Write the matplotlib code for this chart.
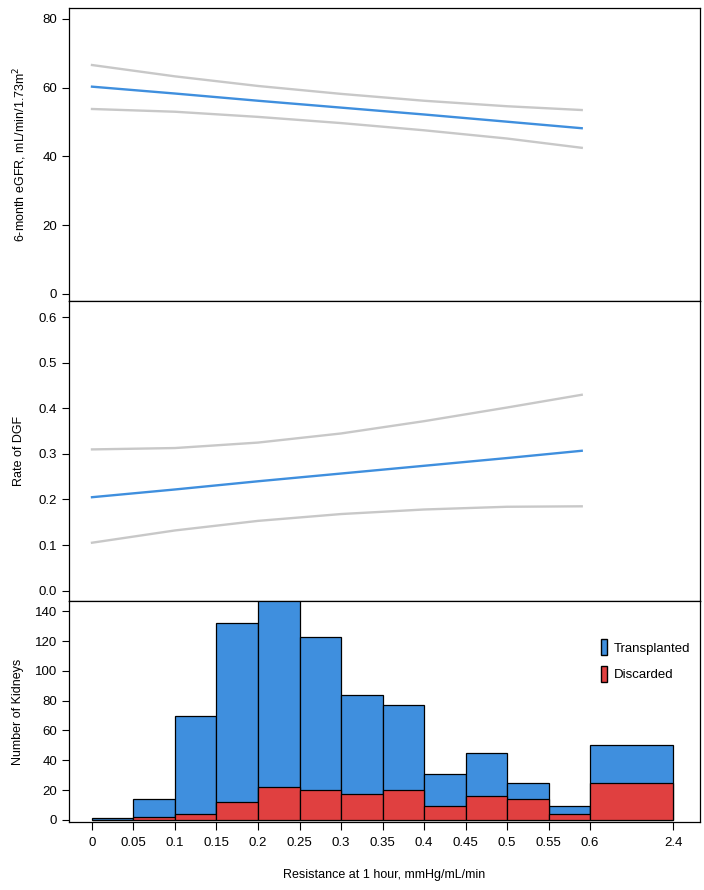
import numpy as np
import matplotlib.pyplot as plt
from matplotlib.patches import Patch

plt.rcParams['font.family'] = ['Liberation Sans', 'DejaVu Sans']

# Fitted curves (x = resistance at 1 hour)
x_fit = [0, 0.1, 0.2, 0.3, 0.4, 0.5, 0.59]
egfr_fit = [60.3, 58.3, 56.2, 54.2, 52.2, 50.1, 48.2]
egfr_upper = [66.6, 63.3, 60.5, 58.2, 56.2, 54.6, 53.5]
egfr_lower = [53.8, 53.0, 51.5, 49.7, 47.6, 45.2, 42.5]

dgf_fit = [0.205, 0.222, 0.240, 0.257, 0.274, 0.291, 0.307]
dgf_upper = [0.310, 0.313, 0.325, 0.345, 0.372, 0.402, 0.430]
dgf_lower = [0.105, 0.132, 0.153, 0.168, 0.178, 0.184, 0.185]

# Histogram bins (last bin 0.6-2.4 shown double width)
bin_labels = ['0', '0.05', '0.1', '0.15', '0.2', '0.25', '0.3', '0.35',
              '0.4', '0.45', '0.5', '0.55', '0.6', '2.4']
total_counts = [1, 14, 70, 132, 148, 123, 84, 77, 31, 45, 25, 9, 50]
discarded_counts = [0, 2, 4, 12, 22, 20, 17, 20, 9, 16, 14, 4, 25]

blue = '#3f8fde'
red = '#e04040'
grey = '#c8c8c8'

# display edges: equal width up to 0.6, then one double-width bin
edges = [i * 0.05 for i in range(13)] + [0.7]
lefts = np.array(edges[:-1])
widths = np.diff(edges)

fig = plt.figure(figsize=(7.04, 8.90), dpi=100)
L, W = 69 / 704, 631 / 704
ax1 = fig.add_axes([L, 1 - 301 / 890, W, 293 / 890])
ax2 = fig.add_axes([L, 1 - 601 / 890, W, 300 / 890])
ax3 = fig.add_axes([L, 1 - 822 / 890, W, 221 / 890])

xlim = (-0.0277, 0.7325)

# Top panel
ax1.plot(x_fit, egfr_upper, color=grey, lw=1.7)
ax1.plot(x_fit, egfr_lower, color=grey, lw=1.7)
ax1.plot(x_fit, egfr_fit, color=blue, lw=1.7)
ax1.set_ylim(-2.1, 83.2)
ax1.set_yticks([0, 20, 40, 60, 80])
ax1.set_ylabel('6-month eGFR, mL/min/1.73m$^2$', fontsize=9, labelpad=10)

# Middle panel
ax2.plot(x_fit, dgf_upper, color=grey, lw=1.7)
ax2.plot(x_fit, dgf_lower, color=grey, lw=1.7)
ax2.plot(x_fit, dgf_fit, color=blue, lw=1.7)
ax2.set_ylim(-0.023, 0.636)
ax2.set_yticks([0, 0.1, 0.2, 0.3, 0.4, 0.5, 0.6])
ax2.set_yticklabels(['0.0', '0.1', '0.2', '0.3', '0.4', '0.5', '0.6'])
ax2.set_ylabel('Rate of DGF', fontsize=9, labelpad=10)

# Bottom panel: histogram
ax3.bar(lefts, total_counts, width=widths, align='edge', color=blue,
        edgecolor='black', linewidth=0.9)
ax3.bar(lefts, discarded_counts, width=widths, align='edge', color=red,
        edgecolor='black', linewidth=0.9)
ax3.set_ylim(-1.5, 147)
ax3.set_yticks(range(0, 141, 20))
ax3.set_ylabel('Number of Kidneys', fontsize=9, labelpad=8)
ax3.set_xticks(edges)
ax3.set_xticklabels(bin_labels)
ax3.tick_params(axis='x', length=6, pad=5)
ax3.set_xlabel('Resistance at 1 hour, mmHg/mL/min', fontsize=9, labelpad=14)

handles = [Patch(facecolor=blue, edgecolor='black', label='Transplanted'),
           Patch(facecolor=red, edgecolor='black', label='Discarded')]
ax3.legend(handles=handles, loc='upper left', bbox_to_anchor=(0.825, 0.88),
           frameon=False, handlelength=0.45, handleheight=1.5,
           handletextpad=0.5, labelspacing=0.8, fontsize=9.5)

for ax in (ax1, ax2, ax3):
    ax.set_xlim(*xlim)
    ax.tick_params(axis='y', length=5, labelsize=9.5, direction='out')
    ax.tick_params(axis='x', labelsize=9.5)
    for s in ax.spines.values():
        s.set_linewidth(0.9)

for ax in (ax1, ax2):
    ax.tick_params(axis='x', bottom=False, labelbottom=False)

fig.savefig('out.png', dpi=100)
